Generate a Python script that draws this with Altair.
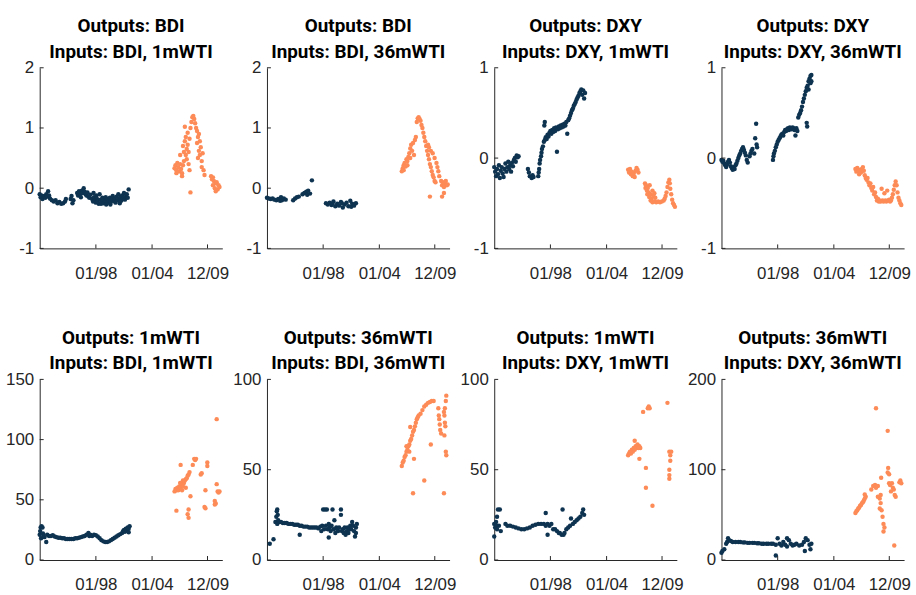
import altair as alt
import pandas as pd

TITLE_FONT = "Roboto"
LABEL_FONT = "Liberation Sans"
DARK = "#0d3350"
ORANGE = "#fd8b57"
AXIS_COLOR = "#262626"

X_DOMAIN = [1992.0, 2011.5]
X_TICKS = [1998.0, 2004.0, 2009.92]
X_LABELS = ["01/98", "01/04", "12/09"]

TITLES = [
    ["Outputs: BDI", "Inputs: BDI, 1mWTI"],
    ["Outputs: BDI", "Inputs: BDI, 36mWTI"],
    ["Outputs: DXY", "Inputs: DXY, 1mWTI"],
    ["Outputs: DXY", "Inputs: DXY, 36mWTI"],
    ["Outputs: 1mWTI", "Inputs: BDI, 1mWTI"],
    ["Outputs: 36mWTI", "Inputs: BDI, 36mWTI"],
    ["Outputs: 1mWTI", "Inputs: DXY, 1mWTI"],
    ["Outputs: 36mWTI", "Inputs: DXY, 36mWTI"],
]
Y_DOMAINS = [[-1, 2], [-1, 2], [-1, 1], [-1, 1], [0, 150], [0, 100], [0, 100], [0, 200]]
Y_TICKS = [[-1, 0, 1, 2], [-1, 0, 1, 2], [-1, 0, 1], [-1, 0, 1],
           [0, 50, 100, 150], [0, 50, 100], [0, 50, 100], [0, 100, 200]]

# ---- panel 1: BDI from BDI, 1mWTI ----
P1_DARK = [(1992.0,-0.10),(1992.1,-0.15),(1992.2,-0.12),(1992.3,-0.18),(1992.4,-0.14),(1992.5,-0.13),
 (1992.6,-0.16),(1992.7,-0.10),(1992.8,-0.14),(1992.9,-0.05),(1993.0,-0.12),(1993.1,-0.17),(1993.3,-0.20),
 (1993.5,-0.22),(1993.7,-0.20),(1993.9,-0.25),(1994.1,-0.23),(1994.3,-0.26),(1994.5,-0.25),(1994.7,-0.22),
 (1994.8,-0.18),(1995.3,-0.18),(1995.4,-0.13),(1995.5,-0.25),(1995.6,-0.20),(1996.0,-0.08),(1996.1,-0.12),
 (1996.2,-0.05),(1996.3,-0.10),(1996.4,-0.15),(1996.5,-0.04),(1996.6,-0.08),(1996.7,0.00),(1996.8,-0.06),
 (1996.9,-0.10),(1997.0,-0.12),(1997.1,-0.07),(1997.2,-0.14),(1997.3,-0.16),(1997.4,-0.11),(1997.6,-0.18),
 (1997.7,-0.22),(1997.75,-0.08),(1997.8,-0.15),(1997.9,-0.20),(1998.0,-0.24),(1998.05,-0.12),(1998.1,-0.17),
 (1998.2,-0.21),(1998.3,-0.26),(1998.4,-0.10),(1998.5,-0.19),(1998.55,-0.26),(1998.6,-0.23),(1998.7,-0.16),
 (1998.8,-0.25),(1998.9,-0.20),(1999.0,-0.22),(1999.05,-0.15),(1999.1,-0.27),(1999.2,-0.18),(1999.3,-0.24),
 (1999.4,-0.20),(1999.5,-0.16),(1999.55,-0.27),(1999.6,-0.23),(1999.7,-0.19),(1999.8,-0.13),(1999.9,-0.21),
 (2000.0,-0.17),(2000.05,-0.22),(2000.1,-0.24),(2000.2,-0.14),(2000.3,-0.20),(2000.4,-0.10),(2000.5,-0.18),
 (2000.55,-0.25),(2000.6,-0.15),(2000.7,-0.21),(2000.8,-0.12),(2000.9,-0.17),(2001.0,-0.08),(2001.1,-0.19),
 (2001.2,-0.14),(2001.3,-0.10),(2001.4,-0.16),(2001.5,-0.02)]
P1_ORANGE = [(2006.4,0.33),(2006.5,0.38),(2006.6,0.30),(2006.7,0.42),(2006.8,0.35),(2006.9,0.28),(2007.0,0.40),
 (2007.1,0.32),(2007.2,0.25),(2007.3,0.38),(2007.4,0.45),(2007.2,0.20),(2006.6,0.25),(2007.0,0.55),
 (2007.3,0.70),(2007.4,0.60),(2007.5,0.78),(2007.6,0.55),(2007.6,0.85),(2007.7,0.65),(2007.7,0.48),(2007.8,0.92),
 (2007.8,0.72),(2007.9,0.40),(2007.9,0.60),(2008.0,0.82),(2008.0,0.30),(2007.5,1.02),
 (2008.1,1.00),(2008.2,1.10),(2008.3,1.18),(2008.4,1.20),(2008.5,1.15),(2008.6,1.08),(2008.7,1.00),
 (2008.8,0.95),(2008.8,0.75),(2008.9,0.85),(2009.0,0.62),(2009.0,0.90),(2009.1,0.55),(2009.1,0.78),(2009.2,0.68),
 (2009.3,0.45),(2009.3,0.35),(2009.4,0.58),(2009.5,0.30),(2009.6,0.22),(2008.9,0.50),(2008.1,-0.07),
 (2010.3,0.20),(2010.4,0.15),(2010.5,0.05),(2010.6,0.12),(2010.7,0.00),(2010.8,0.08),(2010.9,0.10),(2011.0,-0.02),
 (2011.1,0.05),(2011.2,0.02),(2010.5,0.18),(2010.8,-0.05)]

# ---- panel 2: BDI from BDI, 36mWTI ----
P2_DARK = [(1992.0,-0.16),(1992.2,-0.17),(1992.4,-0.18),(1992.6,-0.17),(1992.8,-0.19),(1993.0,-0.20),(1993.2,-0.18),
 (1993.4,-0.21),(1993.5,-0.15),(1993.6,-0.20),(1993.8,-0.17),(1994.0,-0.19),(1994.8,-0.20),(1995.0,-0.17),
 (1995.2,-0.15),(1995.4,-0.14),(1995.8,-0.10),(1996.0,-0.08),(1996.2,-0.06),(1996.3,-0.11),(1996.4,-0.04),
 (1996.6,-0.09),(1996.8,0.13),(1998.3,-0.25),(1998.5,-0.27),(1998.7,-0.24),(1998.9,-0.28),(1999.0,-0.26),
 (1999.1,-0.22),(1999.3,-0.30),(1999.5,-0.26),(1999.7,-0.29),(1999.9,-0.23),(2000.0,-0.25),(2000.1,-0.32),
 (2000.3,-0.27),(2000.5,-0.24),(2000.7,-0.30),(2000.9,-0.21),(2001.0,-0.31),(2001.1,-0.26),(2001.3,-0.29),
 (2001.5,-0.25)]
P2_ORANGE = [(2006.4,0.28),(2006.5,0.33),(2006.6,0.38),(2006.6,0.30),(2006.7,0.42),(2006.8,0.36),(2006.9,0.48),
 (2007.0,0.45),(2007.0,0.38),(2007.1,0.52),(2007.2,0.58),(2007.3,0.50),(2007.3,0.66),(2007.4,0.72),(2007.5,0.62),
 (2007.6,0.75),(2007.7,0.55),(2007.8,0.80),(2007.9,0.85),(2008.0,1.10),(2008.1,1.16),(2008.2,1.18),(2008.3,1.15),
 (2008.4,1.12),(2008.5,1.05),(2008.6,1.00),(2008.7,0.92),(2008.8,0.85),(2008.9,0.78),(2009.0,0.70),(2009.1,0.62),
 (2009.2,0.55),(2009.3,0.48),(2009.4,0.40),(2009.5,0.35),(2009.6,0.28),(2009.7,0.22),(2009.8,0.18),(2009.9,0.12),
 (2010.0,0.10),(2009.2,0.72),(2009.3,0.68),(2009.5,0.62),(2009.7,0.58),(2009.9,0.50),(2010.1,0.42),(2010.2,0.35),
 (2010.3,0.28),(2010.4,0.20),(2010.6,0.12),(2010.7,0.05),(2010.8,0.10),(2010.9,0.02),(2011.0,0.08),(2011.1,0.12),
 (2011.2,0.05),(2011.3,0.06),(2009.4,-0.14),(2010.7,-0.14),(2010.9,-0.08)]

# ---- panel 3: DXY from DXY, 1mWTI ----
P3_DARK = [(1992.0,-0.10),(1992.1,-0.15),(1992.2,-0.20),(1992.3,-0.12),(1992.4,-0.18),(1992.5,-0.08),(1992.6,-0.22),
 (1992.7,-0.14),(1992.8,-0.10),(1992.9,-0.17),(1993.0,-0.21),(1993.1,-0.12),(1993.2,-0.06),(1993.3,-0.15),
 (1993.4,-0.10),(1993.5,-0.04),(1993.6,-0.12),(1993.7,-0.08),(1993.8,-0.15),(1993.9,-0.05),(1994.0,-0.09),
 (1994.1,-0.02),(1994.2,0.00),(1994.3,-0.04),(1994.4,0.03),(1994.5,0.01),(1994.6,0.02),
 (1995.6,-0.12),(1995.7,-0.16),(1995.8,-0.20),(1996.0,-0.22),(1996.1,-0.19),(1996.2,-0.21),
 (1996.7,-0.20),(1996.75,-0.16),(1996.8,-0.12),(1996.85,-0.06),(1996.9,-0.02),(1997.0,0.02),(1997.05,0.06),
 (1997.1,0.10),(1997.2,0.13),(1997.3,0.18),(1997.4,0.40),(1997.35,0.36),(1997.4,0.20),(1997.5,0.23),(1997.6,0.21),
 (1997.7,0.26),(1997.8,0.24),(1997.9,0.28),(1998.0,0.30),(1998.1,0.27),(1998.2,0.31),(1998.3,0.29),(1998.4,0.33),
 (1998.5,0.30),(1998.6,0.34),(1998.7,0.07),(1998.8,0.32),(1998.9,0.35),(1999.0,0.33),(1999.1,0.36),(1999.2,0.34),
 (1999.3,0.37),(1999.4,0.35),(1999.5,0.38),(1999.6,0.36),(1999.7,0.40),(1999.8,0.27),(1999.9,0.42),(2000.0,0.44),
 (2000.1,0.47),(2000.2,0.50),(2000.3,0.53),(2000.4,0.55),(2000.5,0.58),(2000.6,0.60),(2000.7,0.62),(2000.8,0.65),
 (2000.9,0.67),(2001.0,0.69),(2001.1,0.72),(2001.2,0.74),(2001.3,0.76),(2001.4,0.70),(2001.5,0.75),(2001.6,0.66),
 (2001.7,0.72)]
P3_ORANGE = [(2006.3,-0.13),(2006.4,-0.16),(2006.5,-0.12),(2006.6,-0.18),(2006.7,-0.15),(2006.8,-0.20),(2006.9,-0.17),
 (2007.0,-0.21),(2007.1,-0.14),(2007.2,-0.11),(2007.3,-0.13),(2007.4,-0.16),(2008.1,-0.28),(2008.15,-0.33),
 (2008.2,-0.30),(2008.3,-0.36),(2008.35,-0.40),(2008.4,-0.33),(2008.5,-0.38),(2008.55,-0.43),(2008.6,-0.30),
 (2008.7,-0.40),(2008.8,-0.45),(2008.9,-0.36),(2009.0,-0.42),(2009.1,-0.39),(2009.2,-0.44),(2008.7,-0.47),
 (2008.9,-0.49),(2009.1,-0.48),(2009.3,-0.49),(2009.5,-0.48),(2009.7,-0.49),(2009.9,-0.48),(2010.1,-0.47),
 (2010.2,-0.45),(2010.3,-0.42),(2010.4,-0.38),(2010.5,-0.32),(2010.6,-0.27),(2010.7,-0.24),(2010.75,-0.28),
 (2010.8,-0.34),(2010.9,-0.40),(2011.0,-0.46),(2011.1,-0.50),(2011.2,-0.52),(2011.3,-0.54)]

# ---- panel 4: DXY from DXY, 36mWTI ----
P4_DARK = [(1992.0,-0.02),(1992.1,-0.04),(1992.2,-0.03),(1992.3,-0.06),(1992.4,-0.08),(1992.5,-0.10),(1992.6,-0.07),
 (1992.7,-0.04),(1992.8,-0.02),(1992.9,-0.05),(1993.0,-0.09),(1993.1,-0.11),(1993.2,-0.13),(1993.3,-0.10),
 (1993.4,-0.12),(1993.5,-0.08),(1993.6,-0.06),(1993.7,-0.03),(1993.8,0.00),(1993.9,0.03),(1994.0,0.05),
 (1994.1,0.08),(1994.2,0.10),(1994.3,0.12),(1994.4,0.09),(1994.5,0.06),(1994.6,0.03),(1994.7,-0.02),(1994.8,-0.05),
 (1995.0,0.02),(1995.1,0.05),(1995.2,0.08),(1995.3,0.10),(1995.5,0.05),(1995.6,0.22),(1995.7,0.38),(1995.75,0.15),
 (1995.8,0.12),(1997.5,-0.02),(1997.55,0.02),(1997.6,0.05),(1997.7,0.08),(1997.8,0.12),(1997.9,0.15),(1998.0,0.18),
 (1998.1,0.20),(1998.2,0.22),(1998.3,0.24),(1998.4,0.26),(1998.5,0.27),(1998.6,0.25),(1998.7,0.29),(1998.8,0.31),
 (1998.9,0.30),(1999.0,0.32),(1999.1,0.33),(1999.2,0.31),(1999.3,0.34),(1999.4,0.33),(1999.5,0.32),(1999.6,0.34),
 (1999.7,0.33),(1999.8,0.31),(1999.9,0.25),(2000.0,0.33),(2000.1,0.30),(2000.2,0.45),(2000.3,0.48),(2000.4,0.50),
 (2000.5,0.53),(2000.6,0.57),(2000.7,0.62),(2000.8,0.66),(2000.9,0.70),(2001.0,0.74),(2001.1,0.78),(2001.2,0.80),
 (2001.3,0.85),(2001.4,0.88),(2001.5,0.91),(2001.6,0.92),(2001.3,0.76),(2001.5,0.83),(2001.1,0.39),(2001.15,0.35),
 (2001.6,0.85)]
P4_ORANGE = [(2006.3,-0.12),(2006.4,-0.15),(2006.5,-0.11),(2006.6,-0.14),(2006.7,-0.18),(2006.8,-0.13),(2006.9,-0.16),
 (2007.0,-0.12),(2007.1,-0.10),(2007.2,-0.14),(2007.3,-0.19),(2007.4,-0.22),(2007.5,-0.24),(2007.6,-0.22),
 (2007.7,-0.27),(2007.8,-0.30),(2007.9,-0.28),(2008.0,-0.33),(2008.1,-0.36),(2008.2,-0.32),(2008.3,-0.40),
 (2008.4,-0.38),(2008.5,-0.43),(2008.6,-0.47),(2008.7,-0.45),(2008.8,-0.48),(2008.9,-0.47),(2009.0,-0.48),
 (2009.1,-0.34),(2009.2,-0.47),(2009.3,-0.48),(2009.4,-0.39),(2009.5,-0.47),(2009.6,-0.48),(2009.7,-0.36),
 (2009.8,-0.47),(2009.9,-0.46),(2010.0,-0.48),(2010.1,-0.47),(2010.2,-0.44),(2010.3,-0.40),(2010.4,-0.35),
 (2010.5,-0.30),(2010.6,-0.26),(2010.7,-0.30),(2010.8,-0.38),(2010.9,-0.44),(2011.0,-0.47),(2011.1,-0.50),
 (2011.2,-0.52)]

# ---- panel 5: 1mWTI from BDI, 1mWTI ----
P5_DARK = [(1992.0,21),(1992.05,24),(1992.1,27),(1992.15,18),(1992.2,28),(1992.3,27),(1992.35,22),(1992.4,20),
 (1992.5,19),(1992.7,15),(1992.8,21),(1993.0,20),(1993.2,20),(1993.4,20.5),(1993.6,19.5),(1993.8,19),(1994.0,18.5),
 (1994.2,18.5),(1994.4,18),(1994.6,18),(1994.8,17.5),(1995.0,17.5),(1995.2,17.5),(1995.4,17.5),(1995.6,17.5),
 (1995.8,18),(1996.0,18),(1996.2,18.5),(1996.4,19),(1996.6,19.5),(1996.8,20),(1997.0,21),(1997.2,22.5),(1997.3,20),
 (1997.4,21),(1997.6,20),(1997.8,21),(1998.0,20.5),(1998.2,19.5),(1998.4,18),(1998.6,16.5),(1998.8,15.5),
 (1999.0,15),(1999.2,15),(1999.4,15.5),(1999.6,16.5),(1999.8,17.5),(2000.0,18.5),(2000.2,19.5),(2000.4,20.5),
 (2000.6,21.5),(2000.8,22.5),(2000.9,24),(2001.0,25),(2001.1,23.5),(2001.2,26),(2001.3,24.5),(2001.4,27),
 (2001.5,26),(2001.6,28),(2001.5,23)]
P5_ORANGE = [(2006.4,57),(2006.5,59),(2006.6,58),(2006.7,60),(2006.8,58),(2006.9,61),(2007.0,60),(2007.1,62),
 (2007.2,63),(2007.3,61),(2007.4,64),(2007.5,66),(2007.6,67),(2007.7,68),(2007.8,70),(2007.9,71),(2008.0,73),
 (2007.2,58),(2007.6,60),(2007.0,64),(2007.3,66),(2007.05,79),(2006.6,41),(2007.9,42),(2007.9,35),(2007.8,38),
 (2008.1,53),(2008.35,79),(2008.5,84),(2008.6,83),(2008.7,84),(2009.2,71),(2009.3,72),(2009.7,58),(2009.6,44),
 (2009.7,43),(2009.9,81),(2009.9,78),(2010.9,117),(2010.9,63),(2011.0,57),(2011.1,56),(2011.2,57),(2010.7,49),
 (2010.7,46),(2010.8,47)]

# ---- panel 6: 36mWTI from BDI, 36mWTI ----
P6_DARK = [(1992.3,9),(1992.7,11.5),(1992.9,21),(1993.0,24),(1993.05,27),(1993.1,28),(1993.15,25),(1993.2,22),
 (1993.1,20),(1993.3,21),(1993.5,21),(1993.7,20.5),(1993.9,20.5),(1994.1,20.5),(1994.3,20),(1994.5,20),(1994.7,20),
 (1994.9,19.5),(1995.1,19.5),(1995.3,19.5),(1995.5,14),(1995.5,19),(1995.7,19),(1995.9,18.5),(1996.1,18.5),
 (1996.3,18.5),(1996.5,18),(1996.7,18),(1996.9,18),(1997.1,18),(1997.3,18),(1997.5,17.5),(1997.7,18.5),(1997.8,16),
 (1997.9,19),(1998.0,28),(1998.1,17),(1998.2,28),(1998.3,19),(1998.4,28),(1998.5,17),(1998.6,12.5),(1998.6,20),
 (1998.7,18),(1998.8,16),(1998.9,19),(1999.0,28),(1999.1,17),(1999.2,22),(1999.3,15),(1999.4,18),(1999.5,17),
 (1999.6,16),(1999.7,18),(1999.9,28),(1999.9,25),(2000.0,16),(2000.1,17),(2000.2,15),(2000.3,18),(2000.4,14),
 (2000.5,16),(2000.6,18),(2000.7,15),(2000.8,17),(2000.9,19),(2001.0,17),(2001.1,21),(2001.2,19),(2001.3,16),
 (2001.4,13),(2001.5,18),(2001.6,20),(2001.5,15)]
P6_ORANGE = [(2006.4,52),(2006.5,54),(2006.6,55),(2006.7,57),(2006.8,58),(2006.9,60),(2007.0,61),(2007.1,63),
 (2007.2,64),(2007.3,66),(2007.4,67),(2007.5,69),(2007.6,71),(2007.7,72),(2007.8,74),(2007.9,76),(2008.0,78),
 (2008.1,79),(2008.2,80),(2008.4,81),(2008.6,83),(2008.8,85),(2009.0,86),(2009.2,87),(2009.4,87.5),(2009.6,88),
 (2009.8,88),(2007.3,73.6),(2006.9,63),(2007.2,60),(2007.6,37),(2007.7,56),(2008.8,44),(2009.5,64),
 (2010.3,84),(2010.35,80),(2010.4,78),(2010.45,75),(2010.5,72),(2010.6,70),(2010.9,82),(2010.95,80),(2011.0,84),
 (2011.1,88),(2011.15,91),(2011.0,76),(2011.05,74),(2010.95,69),(2011.1,60),(2011.15,58),(2010.9,37)]

# ---- panel 7: 1mWTI from DXY, 1mWTI ----
P7_DARK = [(1992.0,20),(1992.1,18),(1992.2,21),(1992.3,24),(1992.4,28),(1992.6,28),(1992.5,19),(1992.7,16),
 (1992.0,13),(1992.3,17),(1992.2,19),(1993.2,20),(1993.4,19),(1993.7,19),(1994.0,18.5),(1994.3,18),(1994.6,17.5),
 (1994.9,17),(1995.2,17),(1995.5,17.5),(1995.8,18),(1996.1,19),(1996.4,19.5),(1996.7,20),(1997.0,20),(1997.3,20),
 (1997.5,19),(1997.5,26),(1997.7,20),(1997.7,14),(1997.9,19),(1998.1,20),(1998.3,17),(1998.5,17),(1998.7,16),
 (1998.9,15),(1999.0,15),(1999.2,14),(1999.3,28),(1999.4,14),(1999.5,15),(1999.7,17),(1999.9,18),(2000.1,19),
 (2000.2,23),(2000.4,20),(2000.6,21),(2000.8,22),(2001.0,23),(2001.2,24),(2001.4,26),(2001.5,28),(2001.6,25)]
P7_ORANGE = [(2006.3,58),(2006.4,59),(2006.5,60),(2006.6,59),(2006.7,61),(2006.8,60),(2006.9,62),(2007.0,61),
 (2007.1,63),(2007.2,62),(2007.3,64),(2007.4,62),(2007.5,63),(2007.6,62),(2007.0,66),(2007.5,56),(2007.9,82),
 (2008.4,84),(2008.5,85),(2008.6,84),(2008.2,51),(2008.2,40),(2008.9,30),(2010.5,87),(2010.7,60),(2010.8,58),
 (2010.9,60),(2010.8,55),(2010.7,50),(2010.7,47),(2010.7,45)]

# ---- panel 8: 36mWTI from DXY, 36mWTI ----
P8_DARK = [(1992.0,8),(1992.1,10),(1992.3,12),(1992.5,18),(1992.6,20),(1992.7,24),(1992.8,22),(1993.0,21),
 (1993.2,20),(1993.5,20),(1993.8,20),(1994.0,20),(1994.3,19.5),(1994.5,19.5),(1994.8,19),(1995.0,19),(1995.3,19),
 (1995.5,19),(1995.8,18.5),(1996.0,18.5),(1996.3,18),(1996.5,18),(1996.8,18),(1997.0,18),(1997.3,18),(1997.5,18),
 (1997.8,17),(1997.8,5),(1998.0,24),(1998.2,18),(1998.4,16),(1998.6,20),(1998.8,17),(1999.0,15),(1999.0,24),
 (1999.2,22),(1999.4,18),(1999.6,16),(1999.8,17),(2000.0,18),(2000.3,16),(2000.6,17),(2000.8,20),(2000.9,10),
 (2001.0,24),(2001.2,22),(2001.4,17),(2001.5,12),(2001.6,18)]
P8_ORANGE = [(2006.3,52),(2006.4,54),(2006.5,55),(2006.6,57),(2006.7,58),(2006.8,60),(2006.9,61),(2007.0,63),
 (2007.1,64),(2007.2,66),(2007.3,68),(2007.4,70),(2007.3,72.5),(2008.0,78),(2008.2,82),(2008.4,83),(2008.5,80),
 (2008.7,82),(2009.05,91),(2008.5,168),(2009.75,143),(2008.9,68),(2009.0,63),(2009.0,72),(2008.7,70),(2008.9,57),
 (2009.1,55),(2009.2,48),(2009.3,40),(2009.4,36),(2009.3,31.5),(2009.75,97),(2009.8,102),(2009.9,95),(2009.9,85),
 (2010.0,83),(2010.1,76),(2010.2,85),(2010.3,80),(2010.4,78),(2010.5,72),(2010.6,70),(2010.45,16),(2011.0,86),
 (2011.1,88),(2011.2,85)]

DARKS = [P1_DARK, P2_DARK, P3_DARK, P4_DARK, P5_DARK, P6_DARK, P7_DARK, P8_DARK]
ORANGES = [P1_ORANGE, P2_ORANGE, P3_ORANGE, P4_ORANGE, P5_ORANGE, P6_ORANGE, P7_ORANGE, P8_ORANGE]

W, H = 184, 182

x_label_expr = " : ".join(
    f"abs(datum.value - {v}) < 0.01 ? '{lab}'" for v, lab in zip(X_TICKS, X_LABELS)
) + " : ''"
y_label_expr = "datum.value < 0 ? '-' + abs(datum.value) : '' + datum.value"


def panel(i):
    rows = [{"t": x, "v": y, "s": "train"} for x, y in DARKS[i]] + \
           [{"t": x, "v": y, "s": "test"} for x, y in ORANGES[i]]
    df = pd.DataFrame(rows)
    xs = alt.Scale(domain=X_DOMAIN, nice=False, zero=False)
    ys = alt.Scale(domain=Y_DOMAINS[i], nice=False, zero=False)
    x_axis = alt.Axis(values=X_TICKS, labelExpr=x_label_expr, title=None, grid=False, ticks=False,
                      labelPadding=17)
    y_axis = alt.Axis(values=Y_TICKS[i], labelExpr=y_label_expr, title=None, grid=False, ticks=False,
                      labelPadding=6)
    pts = alt.Chart(df).mark_circle(size=20, opacity=1).encode(
        x=alt.X("t:Q", scale=xs, axis=x_axis),
        y=alt.Y("v:Q", scale=ys, axis=y_axis),
        color=alt.Color("s:N", scale=alt.Scale(domain=["train", "test"], range=[DARK, ORANGE]), legend=None),
    )
    ytk = alt.Chart(pd.DataFrame({"v": Y_TICKS[i]})).mark_rule(color=AXIS_COLOR, strokeWidth=1).encode(
        y=alt.Y("v:Q", scale=ys, axis=y_axis), x=alt.value(0), x2=alt.value(4))
    xtk = alt.Chart(pd.DataFrame({"t": X_TICKS})).mark_rule(color=AXIS_COLOR, strokeWidth=1).encode(
        x=alt.X("t:Q", scale=xs, axis=x_axis), y=alt.value(H), y2=alt.value(H - 4))
    return alt.layer(pts, ytk, xtk).properties(
        width=W, height=H,
        title=alt.TitleParams(text=TITLES[i], font=TITLE_FONT, fontSize=19, fontWeight="bold", color="black",
                              lineHeight=26, offset=-3, anchor="middle"),
    )


chart = alt.concat(*[panel(i) for i in range(8)], columns=4,
                   spacing={"row": 132, "column": 45}, bounds="flush").properties(
    padding={"left": 5, "top": 15, "right": 5, "bottom": 5}
).configure_view(stroke=None).configure_axis(
    domainColor=AXIS_COLOR, domainWidth=1, labelFont=LABEL_FONT, labelFontSize=17, labelColor=AXIS_COLOR,
)

chart.save("out.html", embed_options={"renderer": "svg", "actions": False})
